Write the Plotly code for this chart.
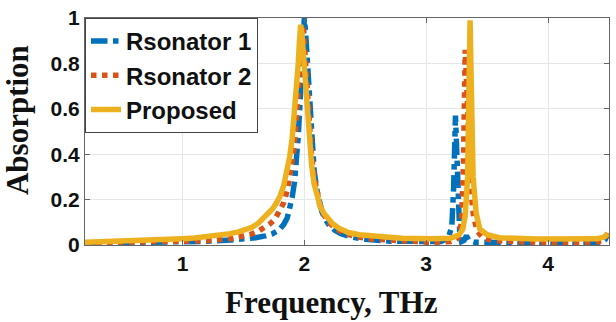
import plotly.graph_objects as go

# Resonator 1
f1 = [0.2, 0.5, 0.8, 1.0, 1.2, 1.4, 1.5, 1.6, 1.68, 1.74, 1.79, 1.83, 1.86, 1.88, 1.9, 1.92, 1.935, 1.95, 1.965,
      1.98, 1.99, 2.0, 2.01, 2.02, 2.035, 2.05, 2.065, 2.08, 2.1, 2.12, 2.145, 2.17, 2.2, 2.25, 2.3, 2.4, 2.5,
      2.7, 3.0, 3.12, 3.18, 3.21, 3.225, 3.24, 3.255, 3.265, 3.275, 3.29, 3.31, 3.33, 3.35, 3.4, 3.6, 4.0,
      4.3, 4.44, 4.47, 4.49]
a1 = [0.008, 0.009, 0.011, 0.013, 0.016, 0.022, 0.026, 0.032, 0.04, 0.05, 0.065, 0.09, 0.12, 0.16, 0.21, 0.28,
      0.37, 0.48, 0.63, 0.81, 0.92, 1.0, 0.94, 0.84, 0.68, 0.54, 0.42, 0.33, 0.25, 0.19, 0.145, 0.115, 0.09,
      0.065, 0.05, 0.034, 0.025, 0.017, 0.012, 0.015, 0.03, 0.08, 0.25, 0.57, 0.35, 0.15, 0.05, 0.015, 0.02,
      0.04, 0.02, 0.012, 0.01, 0.009, 0.009, 0.012, 0.025, 0.05]

# Resonator 2
f2 = [0.2, 0.5, 0.8, 1.0, 1.2, 1.4, 1.5, 1.56, 1.62, 1.68, 1.72, 1.76, 1.8, 1.83, 1.86, 1.89, 1.91, 1.93, 1.95,
      1.965, 1.975, 1.985, 1.995, 2.01, 2.025, 2.04, 2.06, 2.08, 2.1, 2.125, 2.15, 2.18, 2.22, 2.27, 2.33, 2.42,
      2.55, 2.7, 2.85, 3.04, 3.2, 3.26, 3.29, 3.305, 3.32, 3.335, 3.35, 3.37, 3.39, 3.42, 3.47, 3.55, 3.8, 4.1,
      4.35, 4.44, 4.47, 4.49]
a2 = [0.01, 0.011, 0.013, 0.015, 0.019, 0.028, 0.037, 0.047, 0.06, 0.078, 0.094, 0.115, 0.15, 0.185, 0.24,
      0.32, 0.4, 0.52, 0.67, 0.8, 0.9, 0.97, 0.93, 0.8, 0.65, 0.52, 0.39, 0.3, 0.235, 0.18, 0.145, 0.115, 0.09,
      0.068, 0.052, 0.037, 0.026, 0.02, 0.015, 0.012, 0.015, 0.03, 0.1, 0.35, 0.86, 0.62, 0.45, 0.22, 0.12, 0.06,
      0.03, 0.02, 0.013, 0.011, 0.012, 0.016, 0.03, 0.055]

# Proposed
f3 = [0.2, 0.5, 0.8, 1.0, 1.1, 1.2, 1.3, 1.39, 1.46, 1.52, 1.57, 1.62, 1.66, 1.7, 1.74, 1.77, 1.8, 1.83, 1.86,
      1.88, 1.9, 1.92, 1.935, 1.95, 1.96, 1.97, 1.98, 1.995, 2.01, 2.025, 2.04, 2.06, 2.08, 2.1, 2.13, 2.16, 2.19,
      2.23, 2.28, 2.36, 2.45, 2.6, 2.8, 3.04, 3.2, 3.27, 3.3, 3.32, 3.34, 3.35, 3.36, 3.37, 3.385, 3.41, 3.44,
      3.5, 3.6, 3.9, 4.2, 4.4, 4.46, 4.49]
a3 = [0.012, 0.016, 0.022, 0.028, 0.031, 0.036, 0.042, 0.05, 0.058, 0.068, 0.078, 0.095, 0.115, 0.135, 0.16,
      0.185, 0.215, 0.26, 0.33, 0.39, 0.47, 0.58, 0.68, 0.8, 0.9, 0.97, 0.93, 0.82, 0.7, 0.57, 0.46, 0.35, 0.27,
      0.22, 0.17, 0.14, 0.118, 0.095, 0.075, 0.055, 0.045, 0.036, 0.03, 0.027, 0.03, 0.045, 0.07, 0.13, 0.3,
      0.65, 0.99, 0.7, 0.3, 0.14, 0.07, 0.045, 0.032, 0.026, 0.025, 0.027, 0.035, 0.05]

names = ["Rsonator 1", "Rsonator 2", "Proposed"]
colors = ["#0072BD", "#D95319", "#EDB120"]
dashes = ["dashdot", "dot", "solid"]

x_ticks = [1, 2, 3, 4]
y_ticks = [0, 0.2, 0.4, 0.6, 0.8, 1]
y_ticklabels = ["0", "0.2", "0.4", "0.6", "0.8", "1"]

fig = go.Figure()
for i, (fx, ay) in enumerate([(f1, a1), (f2, a2), (f3, a3)]):
    fig.add_trace(go.Scatter(
        x=fx, y=ay, mode="lines", name="<b>" + names[i] + "</b>", legendgroup=names[i],
        line=dict(color=colors[i], width=5.5, dash=dashes[i]),
    ))

tick_font = dict(family="Liberation Sans, Arial, sans-serif", size=21, color="#111")
title_font = dict(family="Liberation Serif, Times New Roman, serif", size=31, color="#111")

fig.update_layout(
    width=616, height=322,
    margin=dict(l=85, r=6, t=16, b=77),
    paper_bgcolor="white", plot_bgcolor="white",
    showlegend=True,
    legend=dict(
        x=0, y=1, xanchor="left", yanchor="top",
        bgcolor="white", bordercolor="#444", borderwidth=1,
        font=dict(family="Liberation Sans, Arial, sans-serif", size=24, color="#111"),
        tracegroupgap=0, itemwidth=30,
    ),
    annotations=[
        dict(text="<b>Frequency, THz</b>", xref="paper", yref="paper", x=0.47, y=-0.253,
             xanchor="center", yanchor="middle", showarrow=False, font=title_font),
        dict(text="<b>Absorption</b>", xref="paper", yref="paper", x=-0.13, y=0.55,
             xanchor="center", yanchor="middle", showarrow=False, font=title_font, textangle=-90),
    ],
)
fig.update_xaxes(
    range=[0.2, 4.5], tickvals=x_ticks, ticktext=["<b>%d</b>" % v for v in x_ticks],
    ticks="inside", ticklen=5, tickcolor="#666", showline=True, linecolor="#666", linewidth=1,
    mirror="ticks", showgrid=True, gridcolor="#e6e6e6", gridwidth=1, zeroline=False,
    tickfont=tick_font,
)
fig.update_yaxes(
    range=[0, 1], tickvals=y_ticks, ticktext=["<b>" + t + "</b>" for t in y_ticklabels],
    ticks="inside", ticklen=5, tickcolor="#666", showline=True, linecolor="#666", linewidth=1,
    mirror="ticks", showgrid=True, gridcolor="#e6e6e6", gridwidth=1, zeroline=False,
    tickfont=tick_font,
)

fig.write_html("out.html")
